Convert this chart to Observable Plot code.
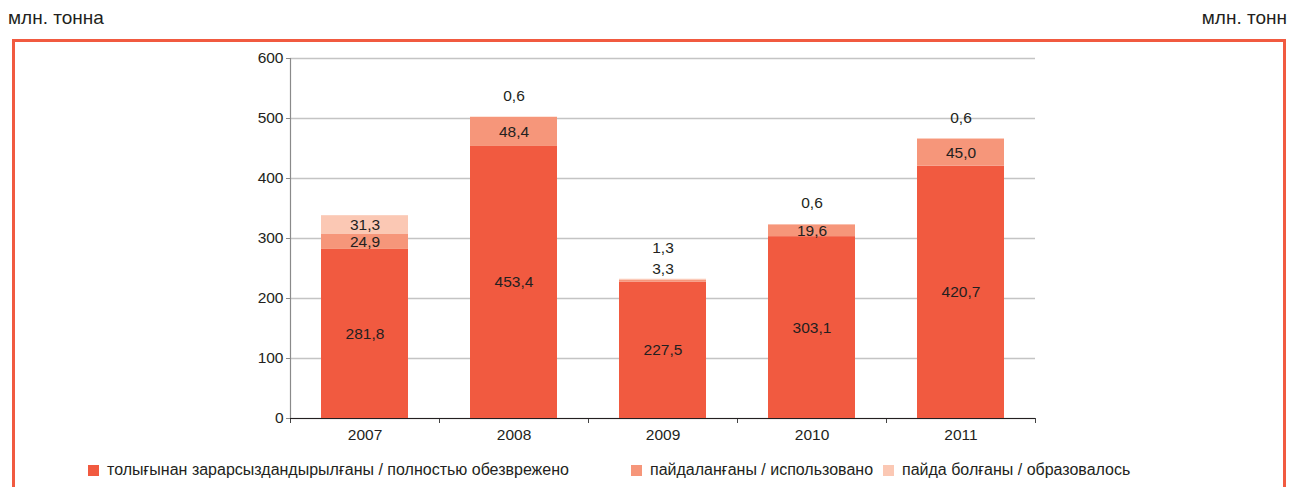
<!DOCTYPE html>
<html>
<head>
<meta charset="utf-8">
<script src="https://cdn.jsdelivr.net/npm/d3@7"></script>
<script src="https://cdn.jsdelivr.net/npm/@observablehq/plot@0.6"></script>
<style>
  html, body { margin: 0; padding: 0; background: #fff; }
  body { width: 1293px; height: 487px; position: relative; overflow: hidden; font-family: "Liberation Sans", Arial, sans-serif; color: #231f20; }
  .hdr { position: absolute; top: 6px; font-size: 19px; color: #231f20; line-height: 24px; }
  #frame { position: absolute; left: 12px; top: 39px; width: 1274px; height: 470px; border: 3px solid #f15a40; box-sizing: border-box; }
  #chart { position: absolute; left: 0; top: 40px; }
  .leg { position: absolute; top: 460px; font-size: 16px; display: flex; align-items: center; white-space: nowrap; line-height: 20px; }
  .sw { width: 11px; height: 11px; display: inline-block; margin-right: 8px; }
</style>
</head>
<body>
<div class="hdr" style="left:8px">млн. тонна</div>
<div class="hdr" style="right:6px">млн. тонн</div>
<div id="frame"></div>
<div id="chart"></div>
<div id="legend"></div>
<script>
const years = ["2007", "2008", "2009", "2010", "2011"];
const destroyed = [281.8, 453.4, 227.5, 303.1, 420.7];
const used = [24.9, 48.4, 3.3, 19.6, 45.0];
const formed = [31.3, 0.6, 1.3, 0.6, 0.6];
const seriesNames = [
  "толығынан зарарсыздандырылғаны / полностью обезврежено",
  "пайдаланғаны / использовано",
  "пайда болғаны / образовалось"
];
const seriesColors = ["#f15a40", "#f6967a", "#fbc8b4"];
const yTicks = [0, 100, 200, 300, 400, 500, 600];

const fmt = v => v.toFixed(1).replace(".", ",");
const seriesValues = [destroyed, used, formed];

const rows = [];
years.forEach((yr, i) => {
  let base = 0;
  seriesValues.forEach((vals, s) => {
    const v = vals[i];
    rows.push({year: yr, series: seriesNames[s], sIndex: s, value: v, mid: base + v / 2, top: 0, label: fmt(v)});
    base += v;
  });
  rows.filter(r => r.year === yr).forEach(r => r.top = base);
});
const inside = rows.filter(r => r.value >= 5);
const smallUsed = rows.filter(r => r.value < 5 && r.sIndex === 1);
const smallTopHigh = rows.filter(r => r.value < 5 && r.sIndex === 2 && rows.some(q => q.year === r.year && q.sIndex === 1 && q.value < 5));
const smallTop = rows.filter(r => r.value < 5 && r.sIndex === 2 && !smallTopHigh.includes(r));

const step = 745 / years.length;
const fs = 15.5;

const plot = Plot.plot({
  width: 1293,
  height: 410,
  marginLeft: 290,
  marginRight: 258,
  marginTop: 18,
  marginBottom: 32,
  style: {fontFamily: '"Liberation Sans", Arial, sans-serif', fontSize: fs + "px", color: "#231f20", background: "transparent"},
  x: {domain: years, paddingInner: 0.416, paddingOuter: 0.208, label: null},
  y: {domain: [0, 600], label: null},
  color: {domain: seriesNames, range: seriesColors},
  marks: [
    Plot.gridY(yTicks, {stroke: "#c4c4c4", strokeOpacity: 1, strokeWidth: 1.5}),
    Plot.barY(rows, Plot.stackY({x: "year", y: "value", fill: "series", order: null})),
    Plot.ruleX([years[0]], {dx: -step / 2, y1: 0, y2: 600, stroke: "#8a8a8a", strokeWidth: 1.2}),
    Plot.ruleX(years, {dx: -step / 2, y1: 0, y2: 0, insetTop: 5, stroke: "#444"}),
    Plot.ruleX([years[years.length - 1]], {dx: step / 2, y1: 0, y2: 0, insetTop: 5, stroke: "#444"}),
    Plot.ruleY([0], {stroke: "#231f20", strokeWidth: 1.2}),
    Plot.axisY({ticks: yTicks, tickSize: 4, tickPadding: 3, stroke: "#8a8a8a", fontSize: fs}),
    Plot.axisX({tickSize: 0, tickPadding: 10, fontSize: fs}),
    Plot.text(inside, {x: "year", y: "mid", text: "label", fill: "#231f20", fontSize: fs}),
    Plot.text(smallUsed, {x: "year", y: "top", text: "label", dy: -10, fill: "#231f20", fontSize: fs}),
    Plot.text(smallTop, {x: "year", y: "top", text: "label", dy: -21, fill: "#231f20", fontSize: fs}),
    Plot.text(smallTopHigh, {x: "year", y: "top", text: "label", dy: -31, fill: "#231f20", fontSize: fs})
  ]
});
document.getElementById("chart").appendChild(plot);

const legendPos = [88, 631, 883];
const leg = document.getElementById("legend");
seriesNames.forEach((n, i) => {
  const d = document.createElement("div");
  d.className = "leg";
  d.style.left = legendPos[i] + "px";
  d.innerHTML = `<span class="sw" style="background:${seriesColors[i]}"></span><span>${n}</span>`;
  leg.appendChild(d);
});
</script>
</body>
</html>
